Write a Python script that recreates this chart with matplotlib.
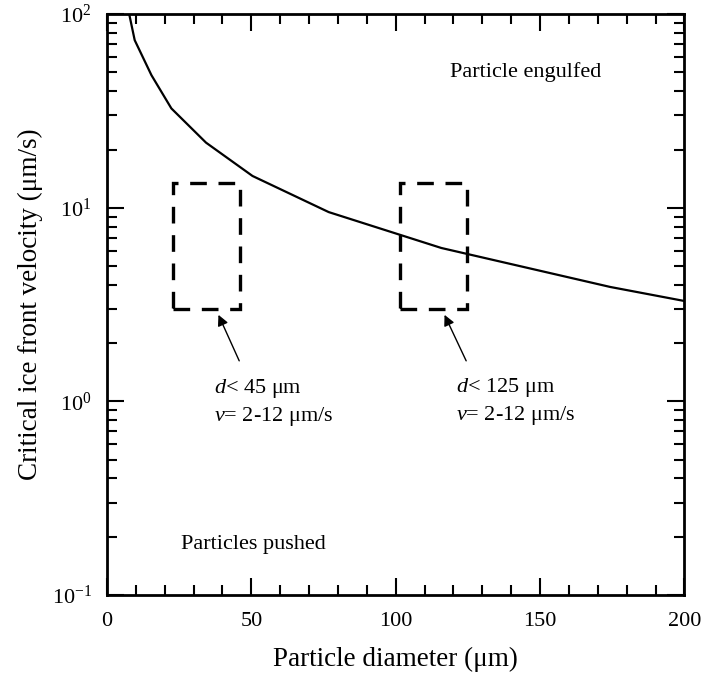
import matplotlib.pyplot as plt
from matplotlib.patches import Rectangle
from matplotlib.ticker import LogLocator, MultipleLocator, LogFormatterMathtext, NullFormatter

plt.rcParams['font.family'] = ['Liberation Serif', 'DejaVu Serif']
plt.rcParams['mathtext.fontset'] = 'custom'
plt.rcParams['mathtext.rm'] = 'Liberation Serif'
plt.rcParams['mathtext.it'] = 'Liberation Serif:italic'

# critical velocity curve
diameter = [7.7, 9.6, 15.4, 22.3, 34.3, 50.4, 76.8, 115.8, 174.3, 200]
velocity = [100, 73.4, 48.4, 32.6, 21.7, 14.6, 9.5, 6.2, 3.9, 3.3]

# experimental windows: (d_min, d_max, v_min, v_max)
windows = [(22.8, 46.0, 3.0, 13.4), (101.4, 124.7, 3.0, 13.4)]
window_labels = [r'$\it{d}$< 45 μm' + '\n' + r'$\it{v}$= 2-12 μm/s',
                 r'$\it{d}$< 125 μm' + '\n' + r'$\it{v}$= 2-12 μm/s']
label_pos = [(37.2, 0.985), (120.8, 1.0)]
arrow_heads = [(38.6, 2.8), (116.9, 2.8)]
arrow_tails = [(45.8, 1.62), (124.4, 1.62)]

fig = plt.figure(figsize=(7.02, 6.75), dpi=100)
ax = fig.add_axes([0.1524, 0.1185, 0.8226, 0.8605])

ax.plot(diameter, velocity, color='black', lw=1.6)

for (x0, x1, y0, y1) in windows:
    ax.add_patch(Rectangle((x0, y0), x1 - x0, y1 - y0, fill=False,
                           ec='black', lw=2.4, ls=(0, (5, 3.5))))

for (tx, ty), lab in zip(label_pos, window_labels):
    ax.text(tx, ty, lab, fontsize=16, ha='left', va='center', linespacing=1.3)

for head, tail in zip(arrow_heads, arrow_tails):
    ax.annotate('', xy=head, xytext=tail,
                arrowprops=dict(arrowstyle='-|>', color='black', lw=1.0,
                                mutation_scale=16, shrinkA=0, shrinkB=0))

ax.text(145, 50, 'Particle engulfed', fontsize=16, ha='center', va='center')
ax.text(50.8, 0.183, 'Particles pushed', fontsize=16, ha='center', va='center')

ax.set_yscale('log')
ax.set_xlim(0, 200)
ax.set_ylim(0.1, 100)

ax.xaxis.set_major_locator(MultipleLocator(50))
ax.xaxis.set_minor_locator(MultipleLocator(10))
ax.yaxis.set_major_locator(LogLocator(base=10))
ax.yaxis.set_minor_locator(LogLocator(base=10, subs=range(2, 10)))
ax.yaxis.set_major_formatter(LogFormatterMathtext())
ax.yaxis.set_minor_formatter(NullFormatter())

ax.tick_params(which='both', direction='in', top=True, right=True,
               labelsize=16, width=1.5)
ax.tick_params(axis='x', which='major', pad=12)
ax.tick_params(axis='y', which='major', pad=11)
ax.tick_params(which='major', length=12)
ax.tick_params(which='minor', length=7)
for sp in ax.spines.values():
    sp.set_linewidth(2)

ax.set_xlabel('Particle diameter (μm)', fontsize=19.5, labelpad=12)
ax.set_ylabel('Critical ice front velocity (μm/s)', fontsize=19.5, labelpad=6)

fig.savefig('out.png', dpi=100)
